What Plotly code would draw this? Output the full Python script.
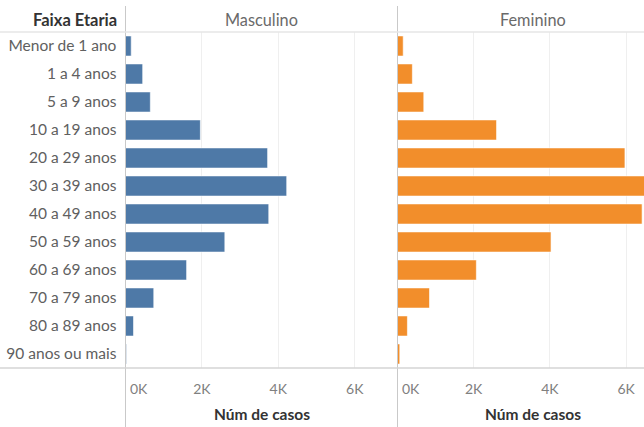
import plotly.graph_objects as go

faixas = ["Menor de 1 ano", "1 a 4 anos", "5 a 9 anos", "10 a 19 anos", "20 a 29 anos",
          "30 a 39 anos", "40 a 49 anos", "50 a 59 anos", "60 a 69 anos", "70 a 79 anos",
          "80 a 89 anos", "90 anos ou mais"]
masculino = [150, 450, 650, 1960, 3720, 4220, 3750, 2600, 1600, 740, 210, 25]
feminino = [150, 390, 690, 2600, 5970, 6800, 6420, 4030, 2070, 840, 260, 60]
tick_vals = [2000, 4000, 6000]
tick_text = ["2K", "4K", "6K"]
titulo_eixo = "Núm de casos"

W, H = 644, 427
top, bottom = 32, 368
x0, xmid = 125.5, 397.5
ph = bottom - top

def py(p):
    return (bottom - p) / ph

FONT = "Lato"
fig = go.Figure()
fig.add_trace(go.Bar(y=faixas, x=masculino, orientation="h", xaxis="x", yaxis="y",
                     marker=dict(color="#4e79a7", line=dict(color="rgba(255,255,255,0.6)", width=1)),
                     showlegend=False))
fig.add_trace(go.Bar(y=faixas, x=feminino, orientation="h", xaxis="x2", yaxis="y",
                     marker=dict(color="#f28e2b", line=dict(color="rgba(255,255,255,0.6)", width=1)),
                     showlegend=False))

axcommon = dict(tickvals=tick_vals, ticktext=tick_text, showgrid=True, gridcolor="#efefef",
                gridwidth=1, zeroline=False, showline=False, ticks="outside", ticklen=8,
                tickcolor="rgba(0,0,0,0)", tickfont=dict(family=FONT, size=14, color="#808080"),
                fixedrange=True)
fig.update_layout(
    width=W, height=H, margin=dict(l=0, r=0, t=top, b=H - bottom),
    paper_bgcolor="white", plot_bgcolor="white", bargap=0.28,
    xaxis=dict(domain=[x0 / W, xmid / W], range=[0, 7120], **axcommon),
    xaxis2=dict(domain=[xmid / W, 1], range=[0, 6470], **axcommon),
    yaxis=dict(categoryorder="array", categoryarray=faixas, autorange="reversed",
               showgrid=False, zeroline=False, ticks="outside", ticklen=5,
               tickcolor="rgba(0,0,0,0)",
               tickfont=dict(family=FONT, size=15.5, color="#606060"), fixedrange=True),
    font=dict(family=FONT),
)

line_main = "#c9c9c9"
line_light = "#e6e6e6"
shapes = [
    dict(type="line", xref="paper", yref="paper", x0=x0 / W, x1=x0 / W, y0=py(6), y1=py(H),
         line=dict(color=line_main, width=1)),
    dict(type="line", xref="paper", yref="paper", x0=xmid / W, x1=xmid / W, y0=py(6), y1=py(H),
         line=dict(color=line_main, width=1)),
    dict(type="line", xref="paper", yref="paper", x0=0, x1=1, y0=1, y1=1,
         line=dict(color=line_light, width=1.5)),
    dict(type="line", xref="paper", yref="paper", x0=0, x1=1, y0=0, y1=0,
         line=dict(color="#d4d4d4", width=1.5)),
]
fig.update_layout(shapes=shapes)

ann = [
    dict(text="<b>Faixa Etaria</b>", xref="paper", yref="paper", x=119 / W, y=py(20),
         xanchor="right", yanchor="middle", showarrow=False,
         font=dict(family=FONT, size=16.5, color="#333")),
    dict(text="Masculino", xref="paper", yref="paper", x=261.5 / W, y=py(20),
         xanchor="center", yanchor="middle", showarrow=False,
         font=dict(family=FONT, size=16.3, color="#6a6a6a")),
    dict(text="Feminino", xref="paper", yref="paper", x=533 / W, y=py(20),
         xanchor="center", yanchor="middle", showarrow=False,
         font=dict(family=FONT, size=16.3, color="#6a6a6a")),
    dict(text="<b>" + titulo_eixo + "</b>", xref="paper", yref="paper", x=261.5 / W, y=py(414),
         xanchor="center", yanchor="middle", showarrow=False,
         font=dict(family=FONT, size=15.5, color="#333")),
    dict(text="<b>" + titulo_eixo + "</b>", xref="paper", yref="paper", x=533 / W, y=py(414),
         xanchor="center", yanchor="middle", showarrow=False,
         font=dict(family=FONT, size=15.5, color="#333")),
    dict(text="0K", xref="x", yref="paper", x=0, y=py(388), xshift=2,
         xanchor="left", yanchor="middle", showarrow=False,
         font=dict(family=FONT, size=14, color="#808080")),
    dict(text="0K", xref="x2", yref="paper", x=0, y=py(388), xshift=2,
         xanchor="left", yanchor="middle", showarrow=False,
         font=dict(family=FONT, size=14, color="#808080")),
]
fig.update_layout(annotations=ann)

fig.write_html("out.html", config={"displayModeBar": False},
               post_script="document.body.style.margin='0';document.body.style.overflow='hidden';")
